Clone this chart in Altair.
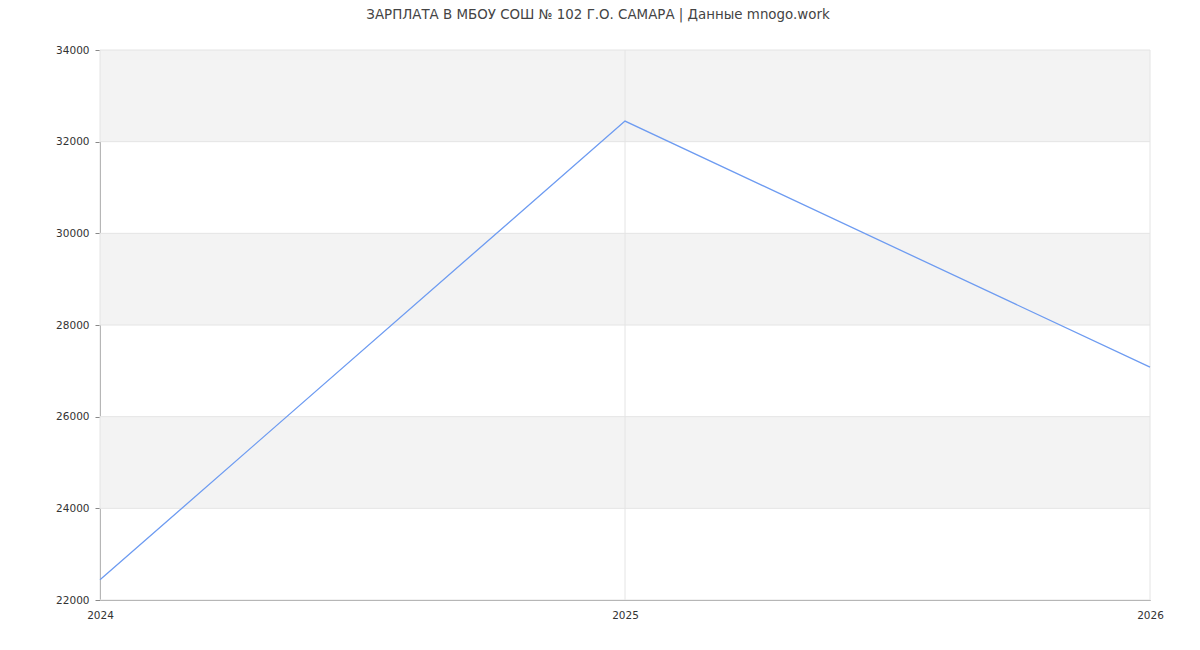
import altair as alt
import pandas as pd

years = [2024, 2025, 2026]
salaries = [22440, 32450, 27080]
band_lo = [24000, 28000, 32000]
band_hi = [26000, 30000, 34000]
y_ticks = [22000, 24000, 26000, 28000, 30000, 32000, 34000]

line_df = pd.DataFrame({"year": [str(y) for y in years], "salary": salaries})
band_df = pd.DataFrame({"lo": band_lo, "hi": band_hi})
ygrid_df = pd.DataFrame({"v": y_ticks})
xgrid_df = pd.DataFrame({"year": [str(y) for y in years]})

FONT = "DejaVu Sans"
GRID = "#e4e4e4"

xs = alt.Scale(type="point", domain=[str(y) for y in years], padding=0)
ys = alt.Scale(domain=[22000, 34000], nice=False, zero=False)

x_axis = alt.Axis(title=None, ticks=False, labelAngle=0,
                  labelPadding=10, labelFontSize=10.5, labelColor="#333",
                  labelFont=FONT, domainColor="#888", grid=False,
                  labelOverlap=False)
y_axis = alt.Axis(values=y_ticks, format="d", title=None, tickSize=5,
                  tickColor="#888", labelPadding=6, labelFontSize=10.5,
                  labelColor="#333", labelFont=FONT, domainColor="#888",
                  grid=False, labelOverlap=False)

bands = alt.Chart(band_df).mark_rect(color="#f3f3f3").encode(
    y=alt.Y("lo:Q", scale=ys, axis=y_axis),
    y2="hi:Q",
    x=alt.value(0),
    x2=alt.value(1050),
)

hgrid = alt.Chart(ygrid_df).mark_rule(color=GRID, strokeWidth=1).encode(
    y=alt.Y("v:Q", scale=ys, axis=y_axis),
)

vgrid = alt.Chart(xgrid_df).mark_rule(color=GRID, strokeWidth=1).encode(
    x=alt.X("year:O", scale=xs, axis=x_axis),
)

line = alt.Chart(line_df).mark_line(color="#6d9bf1", strokeWidth=1.3).encode(
    x=alt.X("year:O", scale=xs, axis=x_axis),
    y=alt.Y("salary:Q", scale=ys, axis=y_axis),
)

chart = alt.layer(bands, hgrid, vgrid, line).properties(
    width=1050,
    height=550,
    title=alt.TitleParams("ЗАРПЛАТА В МБОУ СОШ № 102 Г.О. САМАРА | Данные mnogo.work",
                          font=FONT, fontSize=13.4, fontWeight="normal",
                          color="#444", anchor="middle", offset=24, dx=-27),
    autosize=alt.AutoSizeParams(type="none"),
    padding={"left": 92, "top": 42, "right": 30, "bottom": 40},
).configure_view(stroke=None)

chart.save("out.html", embed_options={"renderer": "svg", "actions": False})
